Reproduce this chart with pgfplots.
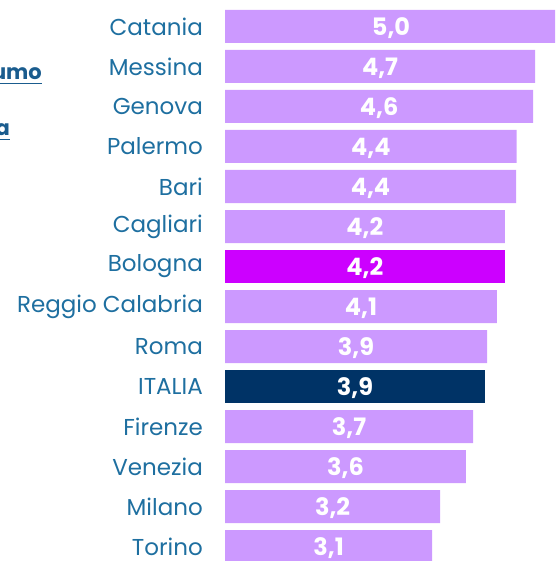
\documentclass[border=0pt]{standalone}
\usepackage{pgfplots}
\pgfplotsset{compat=1.18}
\usepackage{fontspec}
\setmainfont{Poppins}
\definecolor{lav}{HTML}{CC99FF}
\definecolor{mag}{HTML}{CC00FF}
\definecolor{navy}{HTML}{003366}
\definecolor{lbl}{HTML}{1E6FA0}
\definecolor{frag}{HTML}{1A5C8E}
\begin{document}
\begin{tikzpicture}[x=1pt,y=1pt]
\useasboundingbox (0,0) rectangle (555,561);
\clip (0,0) rectangle (555,561);
\begin{axis}[
  at={(225pt,0pt)}, anchor=south west,
  scale only axis, width=330pt, height=561pt,
  xmin=0, xmax=5.0,
  ymin=-0.6625, ymax=13.3625, y dir=reverse,
  axis line style={draw=none},
  xtick=\empty,
  xbar, bar width=33pt, bar shift=0pt,
  ytick={0,...,13},
  yticklabels={Catania,Messina,Genova,Palermo,Bari,Cagliari,Bologna,Reggio Calabria,Roma,ITALIA,Firenze,Venezia,Milano,Torino},
  major tick length=0pt,
  tick style={draw=none},
  yticklabel style={font=\fontsize{23}{25}\selectfont, text=lbl, anchor=east, inner sep=0pt, xshift=-22pt},
  clip=false,
  point meta=explicit symbolic,
  nodes near coords,
  visualization depends on=rawx \as \rawx,
  every node near coord/.append style={font=\fontsize{24}{26}\selectfont\bfseries, text=white, anchor=center, xshift={-\rawx*33pt}, yshift=-2pt},
]
\addplot[fill=lav, draw=none] coordinates {
 (5.03,0) [5,0]
 (4.70,1) [4,7]
 (4.67,2) [4,6]
 (4.42,3) [4,4]
 (4.41,4) [4,4]
 (4.24,5) [4,2]
 (4.12,7) [4,1]
 (3.97,8) [3,9]
 (3.76,10) [3,7]
 (3.65,11) [3,6]
 (3.26,12) [3,2]
 (3.14,13) [3,1]
};
\addplot[fill=mag, draw=none] coordinates {(4.24,6) [4,2]};
\addplot[fill=navy, draw=none] coordinates {(3.94,9) [3,9]};
\end{axis}
\node[anchor=base east, inner sep=0pt, text=frag, font=\fontsize{21}{23}\selectfont\bfseries] at (42,481) {umo};
\draw[frag, line width=1pt] (0,477) -- (42,477);
\node[anchor=base east, inner sep=0pt, text=frag, font=\fontsize{21}{23}\selectfont\bfseries] at (10,425) {a};
\draw[frag, line width=1pt] (0,421) -- (10,421);
\end{tikzpicture}
\end{document}
